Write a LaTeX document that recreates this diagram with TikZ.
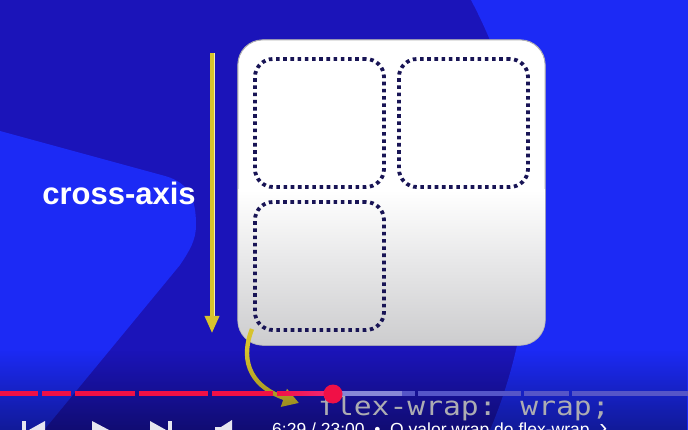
\documentclass[tikz,border=0pt]{standalone}
\usepackage{fontspec}
\usepackage{graphicx}
\setmainfont{Liberation Sans}
\newfontfamily\monofont{DejaVu Sans Mono}
\usetikzlibrary{arrows.meta,fadings}
\definecolor{bgdark}{RGB}{27,20,185}
\definecolor{bglight}{RGB}{28,42,245}
\definecolor{dotnavy}{RGB}{24,20,85}
\definecolor{gold}{RGB}{215,195,45}
\definecolor{paleyellow}{RGB}{245,238,170}
\definecolor{barred}{RGB}{240,16,70}
\definecolor{barpink}{RGB}{240,40,120}
\definecolor{barlight}{RGB}{135,135,215}
\definecolor{bardim}{RGB}{85,85,200}
\definecolor{codegray}{RGB}{172,172,178}
\definecolor{cardgray}{RGB}{204,204,206}
\definecolor{iconwhite}{RGB}{230,230,240}
\tikzfading[name=fadedown, top color=transparent!100, bottom color=transparent!0]
\begin{document}
\begin{tikzpicture}[x=1pt,y=-1pt,
  cardbox/.style={draw=gray!60, line width=0.6pt, rounded corners=25pt, fill=white,
    minimum width=307pt, minimum height=305pt, inner sep=0pt},
  itembox/.style={draw=dotnavy, line width=3.8pt, dash pattern=on 3.6pt off 3.6pt,
    rounded corners=18pt, minimum width=129pt, minimum height=128pt, inner sep=0pt},
  yedge/.style={draw=paleyellow, line width=5pt},
  yarrow/.style={draw=gold, line width=3.4pt},
  barseg/.style={fill=barred},
  restseg/.style={fill=bardim},
  icon/.style={fill=iconwhite}]
\useasboundingbox (0,0) rectangle (688,430);
\clip (0,0) rectangle (688,430);
% background
\fill[bgdark] (0,0) rectangle (688,430);
\fill[bglight] (0,131) -- (165,176) .. controls (190,183) and (196,200) .. (196,225)
  .. controls (196,240) and (190,250) .. (180,265) -- (44,430) -- (0,430) -- cycle;
\fill[bglight] (471,0) .. controls (545,140) and (545,300) .. (490,430) -- (688,430) -- (688,0) -- cycle;
% cross-axis label and arrow
\node[anchor=base, text=white, font=\bfseries\fontsize{31}{31}\selectfont] (lbl) at (119,205) {cross-axis};
\coordinate (vtop) at (212,53);
\coordinate (vbot) at (212,333);
\coordinate (vmid) at (212,318);
\draw[yedge] (vtop) -- (vmid);
\draw[yarrow, -{Triangle[width=14pt,length=17pt]}] (vtop) -- (vbot);
% card and items
\node[cardbox] (card) at (391.5,192.5) {};
\begin{scope}
  \clip[rounded corners=25pt] (card.north west) rectangle (card.south east);
  \shade[top color=white, bottom color=cardgray] (238,190) rectangle (545,346);
\end{scope}
\draw[gray!60, line width=0.6pt, rounded corners=25pt] (card.north west) rectangle (card.south east);
\node[itembox] (item1) at (319.5,123) {};
\node[itembox] (item2) at (463.5,123) {};
\node[itembox] (item3) at (319.5,266) {};
% curved arrow
\coordinate (cstart) at (252,329);
\coordinate (cend) at (299,403);
\draw[yarrow, line width=4.4pt, -{Triangle[width=18pt,length=16pt]}] (cstart) .. controls (238,365) and (255,388) .. (cend);
% bottom darkening
\fill[black, opacity=0.38, path fading=fadedown] (0,350) rectangle (688,430);
% code text
\node[anchor=base west, text=codegray, inner sep=0pt, font=\monofont\fontsize{26}{26}\selectfont] (code) at (318,415) {\scalebox{1.14}[1]{flex-wrap: wrap;}};
% progress bar
\fill[barseg] (0,391) rectangle (38,395.5);
\fill[barseg] (42,391) rectangle (71,395.5);
\fill[barseg] (75,391) rectangle (135,395.5);
\fill[barseg] (139,391) rectangle (208,395.5);
\fill[barseg] (212,391) rectangle (273,395.5);
\shade[left color=barred, right color=barpink] (277,391) rectangle (333,395.5);
\fill[barlight] (333,391) rectangle (402,395.5);
\fill[restseg] (402,391) rectangle (415,395.5);
\fill[restseg] (418,391) rectangle (521,395.5);
\fill[restseg] (524,391) rectangle (569,395.5);
\fill[restseg] (572,391) rectangle (688,395.5);
\fill[barred] (333,394) circle (9.5);
% player controls
\fill[icon] (22,421) rectangle (26,440);
\fill[icon] (45,421) -- (45,440) -- (28,430.5) -- cycle;
\fill[icon] (92,421) -- (92,440) -- (110,430.5) -- cycle;
\fill[icon] (150,421) -- (150,440) -- (167,430.5) -- cycle;
\fill[icon] (168,421) rectangle (172,440);
\fill[icon] (215,427) -- (221,427) -- (232,420) -- (232,441) -- (221,434) -- (215,434) -- cycle;
\node[anchor=base west, text=white, inner sep=0pt, font=\fontsize{17.5}{17.5}\selectfont] (time) at (272,435) {6:29 / 23:00 \ •\ \ O valor wrap do flex-wrap \ {\fontsize{24}{24}\selectfont ›}};
\end{tikzpicture}
\end{document}
